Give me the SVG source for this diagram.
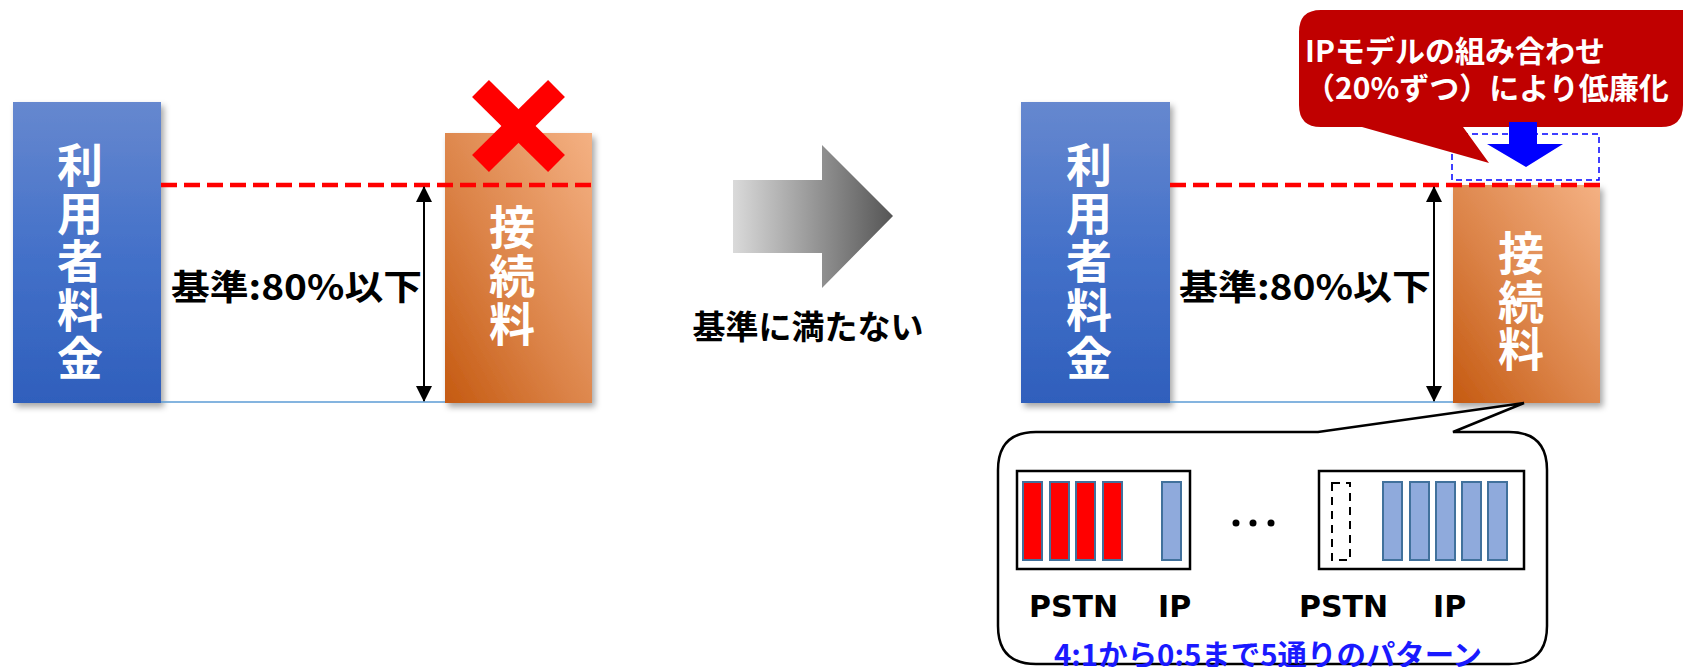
<svg xmlns="http://www.w3.org/2000/svg" width="1684" height="667" viewBox="0 0 1684 667">
<defs>
<linearGradient id="gBlue" x1="0" y1="0" x2="0" y2="1">
<stop offset="0" stop-color="#6688cf"/><stop offset="0.5" stop-color="#4471c9"/><stop offset="1" stop-color="#2f5fbc"/>
</linearGradient>
<linearGradient id="gOrange" x1="0" y1="1" x2="1" y2="0">
<stop offset="0" stop-color="#c55a11"/><stop offset="0.45" stop-color="#dc8449"/><stop offset="1" stop-color="#f4b183"/>
</linearGradient>
<linearGradient id="gGray" x1="0" y1="0" x2="1" y2="0">
<stop offset="0" stop-color="#dadada"/><stop offset="1" stop-color="#555555"/>
</linearGradient>
<filter id="sh" x="-20%" y="-20%" width="140%" height="140%">
<feDropShadow dx="3" dy="4" stdDeviation="3" flood-color="#000" flood-opacity="0.35"/>
</filter>
<marker id="ah" viewBox="0 0 16 16" refX="15" refY="8" markerWidth="16" markerHeight="16" markerUnits="userSpaceOnUse" orient="auto-start-reverse">
<path d="M0,0 L16,8 L0,16 z" fill="#000"/>
</marker>
<style>
.jp{font-family:"Noto Sans CJK JP","Noto Sans",sans-serif;font-weight:bold}
.vt{fill:#fff;font-size:46px;text-anchor:middle}
.lbl{fill:#000;font-size:35px}
.red{stroke:#ff0000;stroke-width:4.5;stroke-dasharray:16 7;fill:none}
.base{stroke:#5b9bd5;stroke-width:1.5;fill:none}
.dbl{stroke:#000;stroke-width:2;fill:none}
.rb{fill:#ff0000;stroke:#41719c;stroke-width:2}
.bb{fill:#8faadc;stroke:#41719c;stroke-width:2}
.box{fill:#fff;stroke:#000;stroke-width:2.5}
.lat{font-family:"DejaVu Sans",sans-serif;font-weight:bold;font-size:30px;fill:#000}
</style>
</defs>

<!-- Left side -->
<g id="left-user-fee">
<rect x="13" y="102" width="148" height="301" fill="url(#gBlue)" filter="url(#sh)"/>
<text class="jp vt"><tspan x="80" y="182">利</tspan><tspan x="80" y="230">用</tspan><tspan x="80" y="278">者</tspan><tspan x="80" y="327">料</tspan><tspan x="80" y="375">金</tspan></text>
</g>
<g id="left-connection-fee">
<rect x="445" y="133" width="147" height="270" fill="url(#gOrange)" filter="url(#sh)"/>
<text class="jp vt"><tspan x="512" y="244">接</tspan><tspan x="512" y="293">続</tspan><tspan x="512" y="341">料</tspan></text>
</g>
<g id="left-cross">
<line x1="480.5" y1="88.5" x2="556.5" y2="163.5" stroke="#ff0000" stroke-width="24"/>
<line x1="556.5" y1="88.5" x2="480.5" y2="163.5" stroke="#ff0000" stroke-width="24"/>
</g>
<g id="left-label">
<text class="jp lbl" x="171" y="300" textLength="251" lengthAdjust="spacingAndGlyphs">基準:80%以下</text>
</g>

<!-- Middle arrow -->
<g id="mid-arrow">
<path d="M733,180 L822,180 L822,145 L893,216 L822,288 L822,253 L733,253 Z" fill="url(#gGray)"/>
<text class="jp" x="808" y="339" font-size="33" text-anchor="middle" fill="#000">基準に満たない</text>
</g>

<!-- Right side -->
<g id="right-user-fee">
<rect x="1021" y="102" width="149" height="301" fill="url(#gBlue)" filter="url(#sh)"/>
<text class="jp vt"><tspan x="1089" y="182">利</tspan><tspan x="1089" y="230">用</tspan><tspan x="1089" y="278">者</tspan><tspan x="1089" y="327">料</tspan><tspan x="1089" y="375">金</tspan></text>
</g>
<g id="right-connection-fee">
<rect x="1453" y="185" width="147" height="218" fill="url(#gOrange)" filter="url(#sh)"/>
<text class="jp vt"><tspan x="1521" y="270">接</tspan><tspan x="1521" y="319">続</tspan><tspan x="1521" y="366">料</tspan></text>
</g>
<g id="right-label">
<text class="jp lbl" x="1179" y="300" textLength="252" lengthAdjust="spacingAndGlyphs">基準:80%以下</text>
</g>
<g id="reduced-part">
<rect x="1452" y="134" width="147" height="46" fill="none" stroke="#0000ff" stroke-width="1.5" stroke-dasharray="6 4"/>
</g>

<g id="callout-top">
<path d="M1321,10 L1683,10 L1683,105 Q1683,127 1661,127 L1463,127 L1489,163 L1362,127 L1321,127 Q1299,127 1299,105 L1299,32 Q1299,10 1321,10 Z" fill="#c00000"/>
<text class="jp" fill="#fff" font-size="30"><tspan x="1305" y="62">IPモデルの組み合わせ</tspan><tspan x="1305" y="99">（20%ずつ）により低廉化</tspan></text>
</g>
<g id="blue-down-arrow">
<path d="M1509,122 L1537,122 L1537,144 L1563,144 L1526,167 L1487,144 L1509,144 Z" fill="#0000ff"/>
</g>

<g id="bubble">
<path d="M1036,432 L1318,432 L1524,403 L1453,432 L1509,432 Q1547,432 1547,470 L1547,626 Q1547,664 1509,664 L1036,664 Q998,664 998,626 L998,470 Q998,432 1036,432 Z" fill="#fff" stroke="#000" stroke-width="2.5"/>
<rect class="box" x="1017" y="471" width="173" height="98"/>
<rect class="rb" x="1023" y="482" width="19" height="78"/>
<rect class="rb" x="1050" y="482" width="19" height="78"/>
<rect class="rb" x="1076" y="482" width="19" height="78"/>
<rect class="rb" x="1103" y="482" width="19" height="78"/>
<rect class="bb" x="1162" y="482" width="19" height="78"/>
<circle cx="1236" cy="523" r="3.5" fill="#000"/>
<circle cx="1253" cy="523" r="3.5" fill="#000"/>
<circle cx="1271" cy="523" r="3.5" fill="#000"/>
<rect class="box" x="1319" y="471" width="205" height="98"/>
<rect x="1332" y="483" width="18" height="77" fill="none" stroke="#000" stroke-width="2" stroke-dasharray="8 6"/>
<rect class="bb" x="1383" y="482" width="19" height="78"/>
<rect class="bb" x="1410" y="482" width="19" height="78"/>
<rect class="bb" x="1436" y="482" width="19" height="78"/>
<rect class="bb" x="1462" y="482" width="19" height="78"/>
<rect class="bb" x="1488" y="482" width="19" height="78"/>
<text class="lat" x="1029" y="617">PSTN</text>
<text class="lat" x="1158" y="617">IP</text>
<text class="lat" x="1299" y="617">PSTN</text>
<text class="lat" x="1433" y="617">IP</text>
<text class="jp" x="1268" y="666" font-size="29" text-anchor="middle" fill="#1a1aff" textLength="428" lengthAdjust="spacingAndGlyphs">4:1から0:5まで5通りのパターン</text>
</g>

<g id="connectors">
<line class="red" x1="161" y1="185" x2="592" y2="185"/>
<line class="base" x1="161" y1="402" x2="445" y2="402"/>
<line class="dbl" x1="424" y1="187" x2="424" y2="401" marker-start="url(#ah)" marker-end="url(#ah)"/>
<line class="red" x1="1170" y1="185" x2="1600" y2="185"/>
<line class="base" x1="1170" y1="402" x2="1453" y2="402"/>
<line class="dbl" x1="1434" y1="187" x2="1434" y2="401" marker-start="url(#ah)" marker-end="url(#ah)"/>
</g>
</svg>
